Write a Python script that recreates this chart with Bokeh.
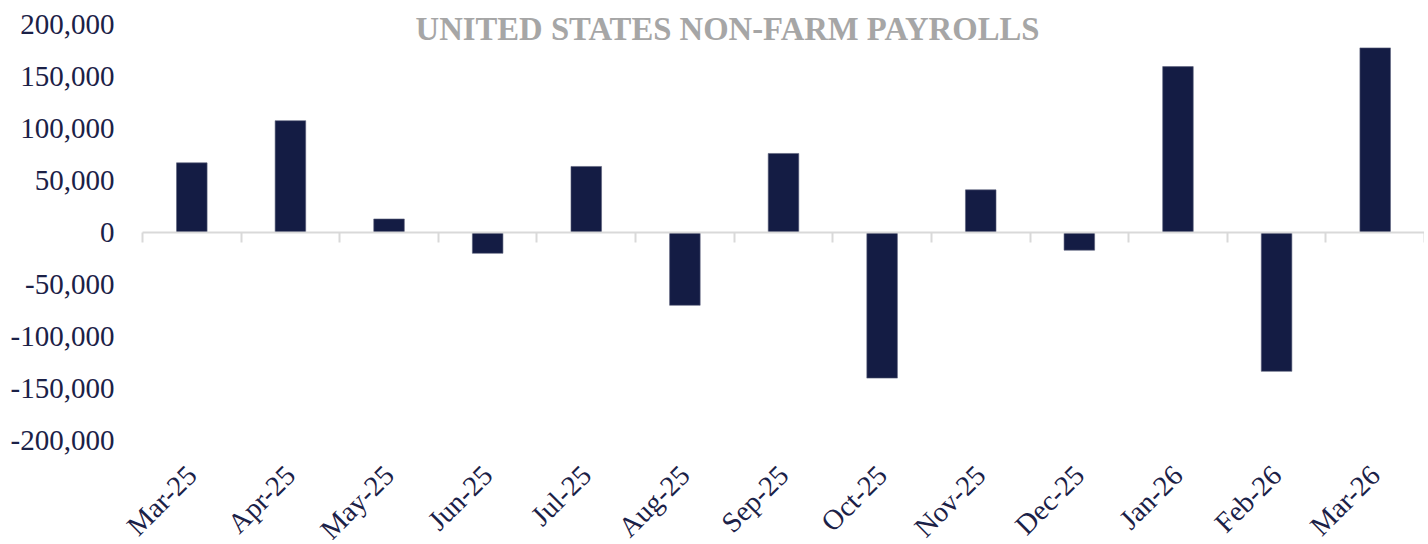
import math
from bokeh.plotting import figure
from bokeh.models import (Range1d, LinearAxis, FixedTicker,
                          NumeralTickFormatter, Label)
from bokeh.embed import file_html
from bokeh.resources import INLINE

months = ["Mar-25", "Apr-25", "May-25", "Jun-25", "Jul-25", "Aug-25", "Sep-25",
          "Oct-25", "Nov-25", "Dec-25", "Jan-26", "Feb-26", "Mar-26"]
payrolls = [67000, 107500, 13000, -20000, 63500, -70000, 76000,
            -140000, 41000, -17000, 159500, -133500, 177500]
y_ticks = [-200000, -150000, -100000, -50000, 0, 50000, 100000, 150000, 200000]
chart_title = "UNITED STATES NON-FARM PAYROLLS"

NAVY = "#141c44"
TEXT = "#1b2147"
FONT = "Liberation Serif"

W, H = 1424, 540
LEFT_PAD = 142      # px left of the first category (value labels)
TOP_PAD = 24        # px above the top value tick (room for the title)
PLOT_PX = 416       # px between lowest and highest value tick
BOTTOM_PAD = H - TOP_PAD - PLOT_PX   # px below the lowest tick (month labels)

n = len(months)
centers = [i + 0.5 for i in range(n)]
edges = list(range(n + 1))

span = y_ticks[-1] - y_ticks[0]
y_hi = y_ticks[-1] + span * TOP_PAD / PLOT_PX
y_lo = y_ticks[0] - span * BOTTOM_PAD / PLOT_PX
slot_px = (W - LEFT_PAD) / n
x_lo = -LEFT_PAD / slot_px

p = figure(width=W, height=H,
           x_range=Range1d(x_lo, n), y_range=Range1d(y_lo, y_hi),
           output_backend="svg", toolbar_location=None,
           min_border_left=0, min_border_right=0,
           min_border_top=0, min_border_bottom=0)
p.outline_line_color = None
p.xgrid.visible = False
p.ygrid.visible = False
p.xaxis.visible = False

p.vbar(x=centers, top=payrolls, width=0.31, fill_color=NAVY,
       line_color="#5a5f7a", line_width=0.6)

# value axis, sitting at the left edge of the first category
ya = p.yaxis[0]
ya.fixed_location = 0
ya.ticker = FixedTicker(ticks=y_ticks)
ya.formatter = NumeralTickFormatter(format="0,0")
ya.axis_line_color = None
ya.major_tick_line_color = None
ya.minor_tick_line_color = None
ya.major_tick_out = 0
ya.major_tick_in = 0
ya.major_label_standoff = 28
ya.major_label_text_font = FONT
ya.major_label_text_font_size = "29px"
ya.major_label_text_color = TEXT

# month labels axis, sitting at the lowest value tick
xa = LinearAxis(fixed_location=y_ticks[0],
                ticker=FixedTicker(ticks=centers),
                major_label_overrides={c: m for c, m in zip(centers, months)},
                axis_line_color=None, major_tick_line_color=None,
                minor_tick_line_color=None, major_tick_out=0, major_tick_in=0,
                major_label_orientation=math.pi / 4,
                major_label_standoff=30,
                major_label_text_font=FONT, major_label_text_font_size="28.5px",
                major_label_text_color=TEXT)
p.add_layout(xa, "below")

# zero line with category boundary ticks
zax = LinearAxis(fixed_location=0, bounds=(0, n),
                 ticker=FixedTicker(ticks=edges),
                 major_label_overrides={e: "" for e in edges},
                 major_label_standoff=0,
                 axis_line_color="#d9d9d9", axis_line_width=2,
                 major_tick_line_color="#d9d9d9", major_tick_line_width=2,
                 major_tick_in=0, major_tick_out=10,
                 minor_tick_line_color=None)
p.add_layout(zax, "below")

title_label = Label(x=LEFT_PAD + 585, y=H - TOP_PAD - 4, x_units="screen", y_units="screen",
                    text=chart_title, text_align="center", text_baseline="middle",
                    text_font=FONT, text_font_style="bold", text_font_size="32.7px",
                    text_color="#a6a6a6")
p.add_layout(title_label)

open("out.html", "w").write(file_html(p, INLINE))
